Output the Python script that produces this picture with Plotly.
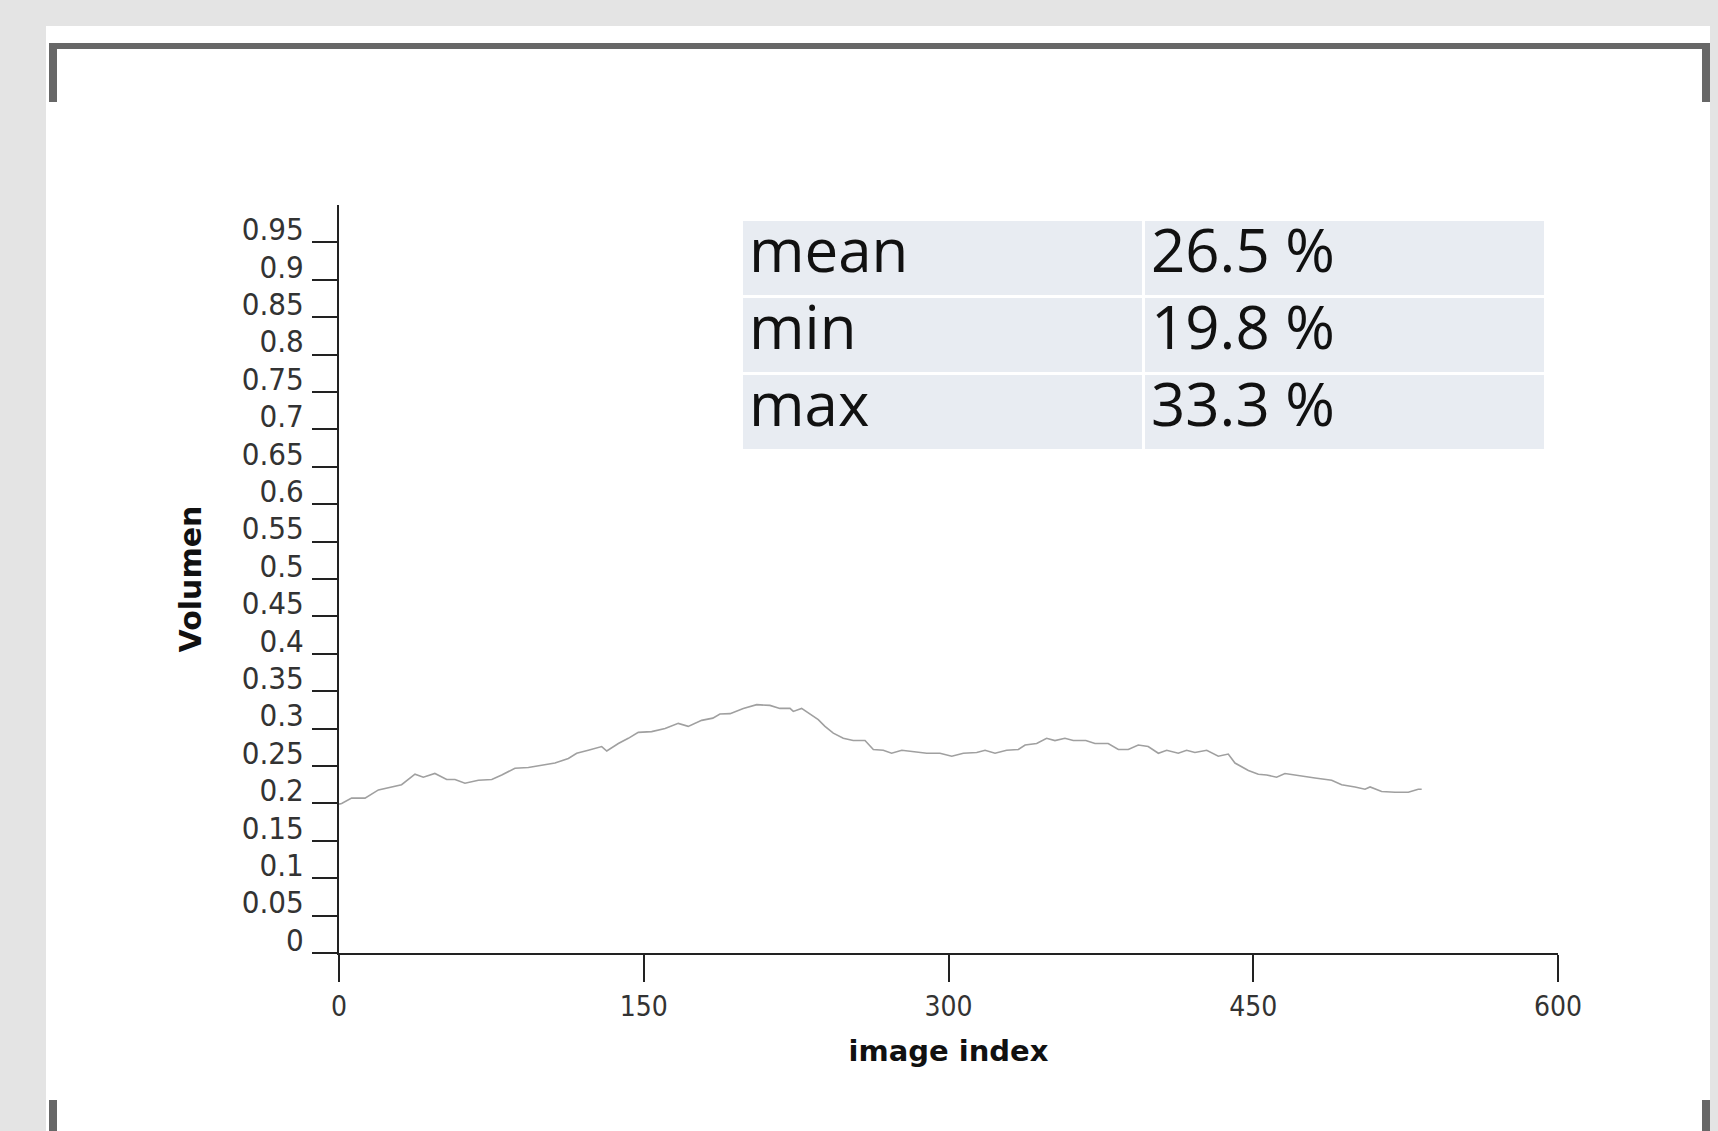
import plotly.graph_objects as go

# ---- data ----
image_index = [0, 1.3, 6.2, 12.8, 19.4, 25.1, 30.8, 37.4, 41.5, 47.2, 53.0, 57.1, 62.0, 68.6, 75.2,
               80.1, 86.6, 93.2, 99.8, 106.3, 112.9, 117.0, 122.7, 129.3, 131.8, 137.5, 142.4,
               147.3, 153.9, 160.5, 167.0, 171.9, 178.5, 184.0, 187.5, 192.5, 199.0, 205.6, 212.1,
               217.0, 222.0, 223.6, 227.7, 231.8, 235.9, 239.2, 243.3, 248.2, 253.1, 258.9, 263.0,
               267.9, 272.0, 277.0, 282.7, 289.3, 295.8, 301.6, 307.3, 313.9, 318.0, 322.9, 328.6,
               334.4, 337.7, 343.4, 348.3, 352.4, 357.3, 361.4, 367.6, 372.1, 378.6, 383.6, 388.5,
               393.4, 398.3, 403.3, 407.4, 413.1, 417.2, 421.3, 427.1, 432.8, 437.7, 441.0, 447.6,
               452.5, 456.6, 461.5, 465.6, 472.2, 480.4, 488.6, 493.5, 500.1, 505.0, 507.5, 513.2,
               519.8, 526.3, 531.2, 532.9]
volumen = [0.199, 0.200, 0.207, 0.207, 0.218, 0.222, 0.225, 0.239, 0.235, 0.240, 0.232, 0.232,
           0.227, 0.231, 0.232, 0.238, 0.247, 0.248, 0.251, 0.254, 0.260, 0.267, 0.271, 0.276,
           0.270, 0.280, 0.287, 0.295, 0.296, 0.300, 0.307, 0.303, 0.311, 0.314, 0.3195, 0.320,
           0.327, 0.332, 0.331, 0.327, 0.327, 0.323, 0.327, 0.320, 0.312, 0.303, 0.294, 0.287,
           0.284, 0.284, 0.272, 0.271, 0.267, 0.271, 0.269, 0.267, 0.267, 0.263, 0.267, 0.268,
           0.271, 0.267, 0.271, 0.272, 0.278, 0.280, 0.287, 0.284, 0.287, 0.284, 0.284, 0.280,
           0.280, 0.272, 0.272, 0.278, 0.276, 0.267, 0.271, 0.267, 0.271, 0.268, 0.271, 0.263,
           0.266, 0.254, 0.244, 0.239, 0.238, 0.235, 0.240, 0.237, 0.234, 0.231, 0.225, 0.222,
           0.219, 0.222, 0.216, 0.215, 0.215, 0.219, 0.219]

y_tick_vals = [i * 0.05 for i in range(20)]
y_tick_text = ["0", "0.05", "0.1", "0.15", "0.2", "0.25", "0.3", "0.35", "0.4", "0.45",
               "0.5", "0.55", "0.6", "0.65", "0.7", "0.75", "0.8", "0.85", "0.9", "0.95"]
x_tick_vals = [0, 150, 300, 450, 600]

stat_names = ["mean", "min", "max"]
stat_values = ["26.5 %", "19.8 %", "33.3 %"]

# ---- layout geometry (pixels) ----
W, H = 1718, 1131
PL, PR, PT, PB = 339, 1558, 205, 953


def px(x):
    return x / W


def py(y):
    return 1 - y / H


fig = go.Figure()

fig.add_trace(go.Scatter(
    x=image_index, y=volumen, mode="lines",
    line=dict(color="#a0a0a0", width=1.6),
    showlegend=False, hoverinfo="skip",
))

cell_fill = "#e8ecf2"
fig.add_trace(go.Table(
    domain=dict(x=[px(741), px(1545)], y=[py(452), py(219)]),
    columnwidth=[1, 1],
    header=dict(
        values=[stat_names[0], stat_values[0]],
        fill_color=cell_fill, line=dict(color="white", width=3),
        align="left", height=77,
        font=dict(family="Open Sans", size=60, color="#111111"),
    ),
    cells=dict(
        values=[stat_names[1:], stat_values[1:]],
        fill_color=cell_fill, line=dict(color="white", width=3),
        align="left", height=77,
        font=dict(family="Open Sans", size=60, color="#111111"),
    ),
))

axis_color = "#222222"
fig.update_xaxes(
    domain=[px(PL), px(PR)], range=[0, 600],
    tickvals=x_tick_vals, ticks="outside", ticklen=27, tickwidth=2, tickcolor=axis_color,
    showline=True, linecolor=axis_color, linewidth=2,
    showgrid=False, zeroline=False,
    tickfont=dict(family="DejaVu Sans Condensed, DejaVu Sans", size=28, color="#333333"),
    title=dict(text="<b>image index</b>", standoff=19,
               font=dict(family="DejaVu Sans", size=29, color="#111111")),
    automargin=False,
)
fig.update_yaxes(
    domain=[py(PB), py(PT)], range=[0, 1.0],
    tickvals=y_tick_vals, ticktext=y_tick_text,
    ticks="outside", ticklen=25, tickwidth=2, tickcolor=axis_color,
    ticklabelposition="outside", ticklabelstandoff=2, ticklabelshift=-13,
    showline=True, linecolor=axis_color, linewidth=2,
    showgrid=False, zeroline=False,
    tickfont=dict(family="DejaVu Sans Condensed, DejaVu Sans", size=31, color="#333333"),
    title=dict(text="<b>Volumen</b>", standoff=31,
               font=dict(family="DejaVu Sans", size=30, color="#111111")),
    automargin=False,
)

shapes = [
    # white panel
    dict(type="rect", xref="paper", yref="paper", x0=px(46), x1=px(1710), y0=py(1131), y1=py(26),
         fillcolor="white", line=dict(width=0), layer="below"),
    # top bracket
    dict(type="rect", xref="paper", yref="paper", x0=px(49), x1=px(1710), y0=py(49), y1=py(43),
         fillcolor="#676767", line=dict(width=0)),
    dict(type="rect", xref="paper", yref="paper", x0=px(49), x1=px(57), y0=py(102), y1=py(43),
         fillcolor="#676767", line=dict(width=0)),
    dict(type="rect", xref="paper", yref="paper", x0=px(1702), x1=px(1710), y0=py(102), y1=py(43),
         fillcolor="#676767", line=dict(width=0)),
    # bottom bracket stubs
    dict(type="rect", xref="paper", yref="paper", x0=px(49), x1=px(57), y0=py(1131), y1=py(1100),
         fillcolor="#676767", line=dict(width=0)),
    dict(type="rect", xref="paper", yref="paper", x0=px(1702), x1=px(1710), y0=py(1131), y1=py(1100),
         fillcolor="#676767", line=dict(width=0)),
]

fig.update_layout(
    width=W, height=H,
    margin=dict(l=0, r=0, t=0, b=0, autoexpand=False),
    paper_bgcolor="#e4e4e4", plot_bgcolor="rgba(0,0,0,0)",
    shapes=shapes, showlegend=False,
)

page_style = ("document.body.style.margin='0';"
              "document.body.style.background='#e4e4e4';"
              "document.body.style.overflow='hidden';")

fig.write_html("out.html", post_script=page_style, config={"displayModeBar": False})
